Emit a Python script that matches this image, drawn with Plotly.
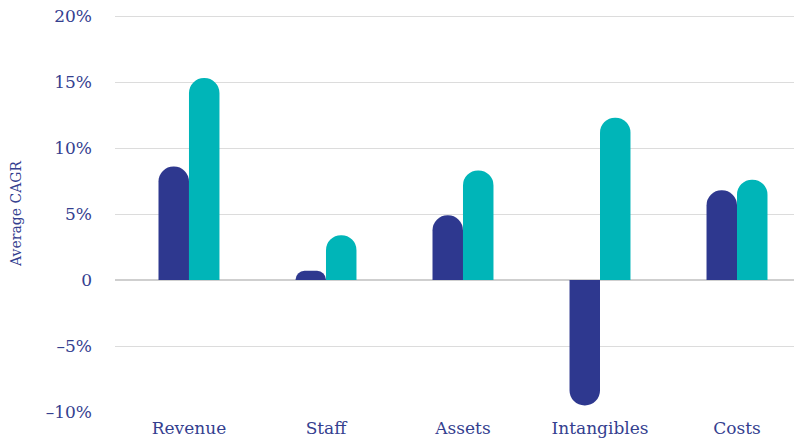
import plotly.graph_objects as go

categories = ["Revenue", "Staff", "Assets", "Intangibles", "Costs"]
series_a = [8.6, 0.7, 4.9, -9.5, 6.8]
series_b = [15.3, 3.4, 8.3, 12.3, 7.6]
tick_vals = [-10, -5, 0, 5, 10, 15, 20]
tick_text = ["–10%", "–5%", "0", "5%", "10%", "15%", "20%"]

navy = "#2e388f"
teal = "#00b5b8"
text_col = "#34408f"
font = "DejaVu Serif"

fig = go.Figure()
fig.add_trace(go.Bar(x=categories, y=series_a, marker=dict(color=navy, cornerradius="50%", line_width=0),
                     name="A", hoverinfo="x+y"))
fig.add_trace(go.Bar(x=categories, y=series_b, marker=dict(color=teal, cornerradius="50%", line_width=0),
                     name="B", hoverinfo="x+y"))

fig.update_layout(
    width=794, height=442,
    margin=dict(l=115, r=0, t=15, b=30),
    barmode="group", bargap=0.555, bargroupgap=0,
    plot_bgcolor="white", paper_bgcolor="white",
    showlegend=False,
    font=dict(family=font, color=text_col, size=17),
)
fig.update_xaxes(range=[-0.54, 4.416], showgrid=False, showline=False, ticks="",
                 automargin=False, ticklabelstandoff=4,
                 tickfont=dict(size=17, color=text_col))
fig.update_yaxes(range=[-10, 20.08], tickvals=tick_vals, ticktext=tick_text,
                 showgrid=True, gridcolor="#dcdcdc", gridwidth=1,
                 zeroline=True, zerolinecolor="#cfcfcf", zerolinewidth=2,
                 automargin=False, ticklabelstandoff=22, ticklabeloverflow="allow",
                 tickfont=dict(size=17, color=text_col),
                 title=dict(text="Average CAGR", font=dict(size=14, color=text_col), standoff=20))

# drop the default body margin so the figure sits at the window's corner
fig.write_html("out.html", config={"displayModeBar": False},
               post_script="document.body.style.margin = '0';")
